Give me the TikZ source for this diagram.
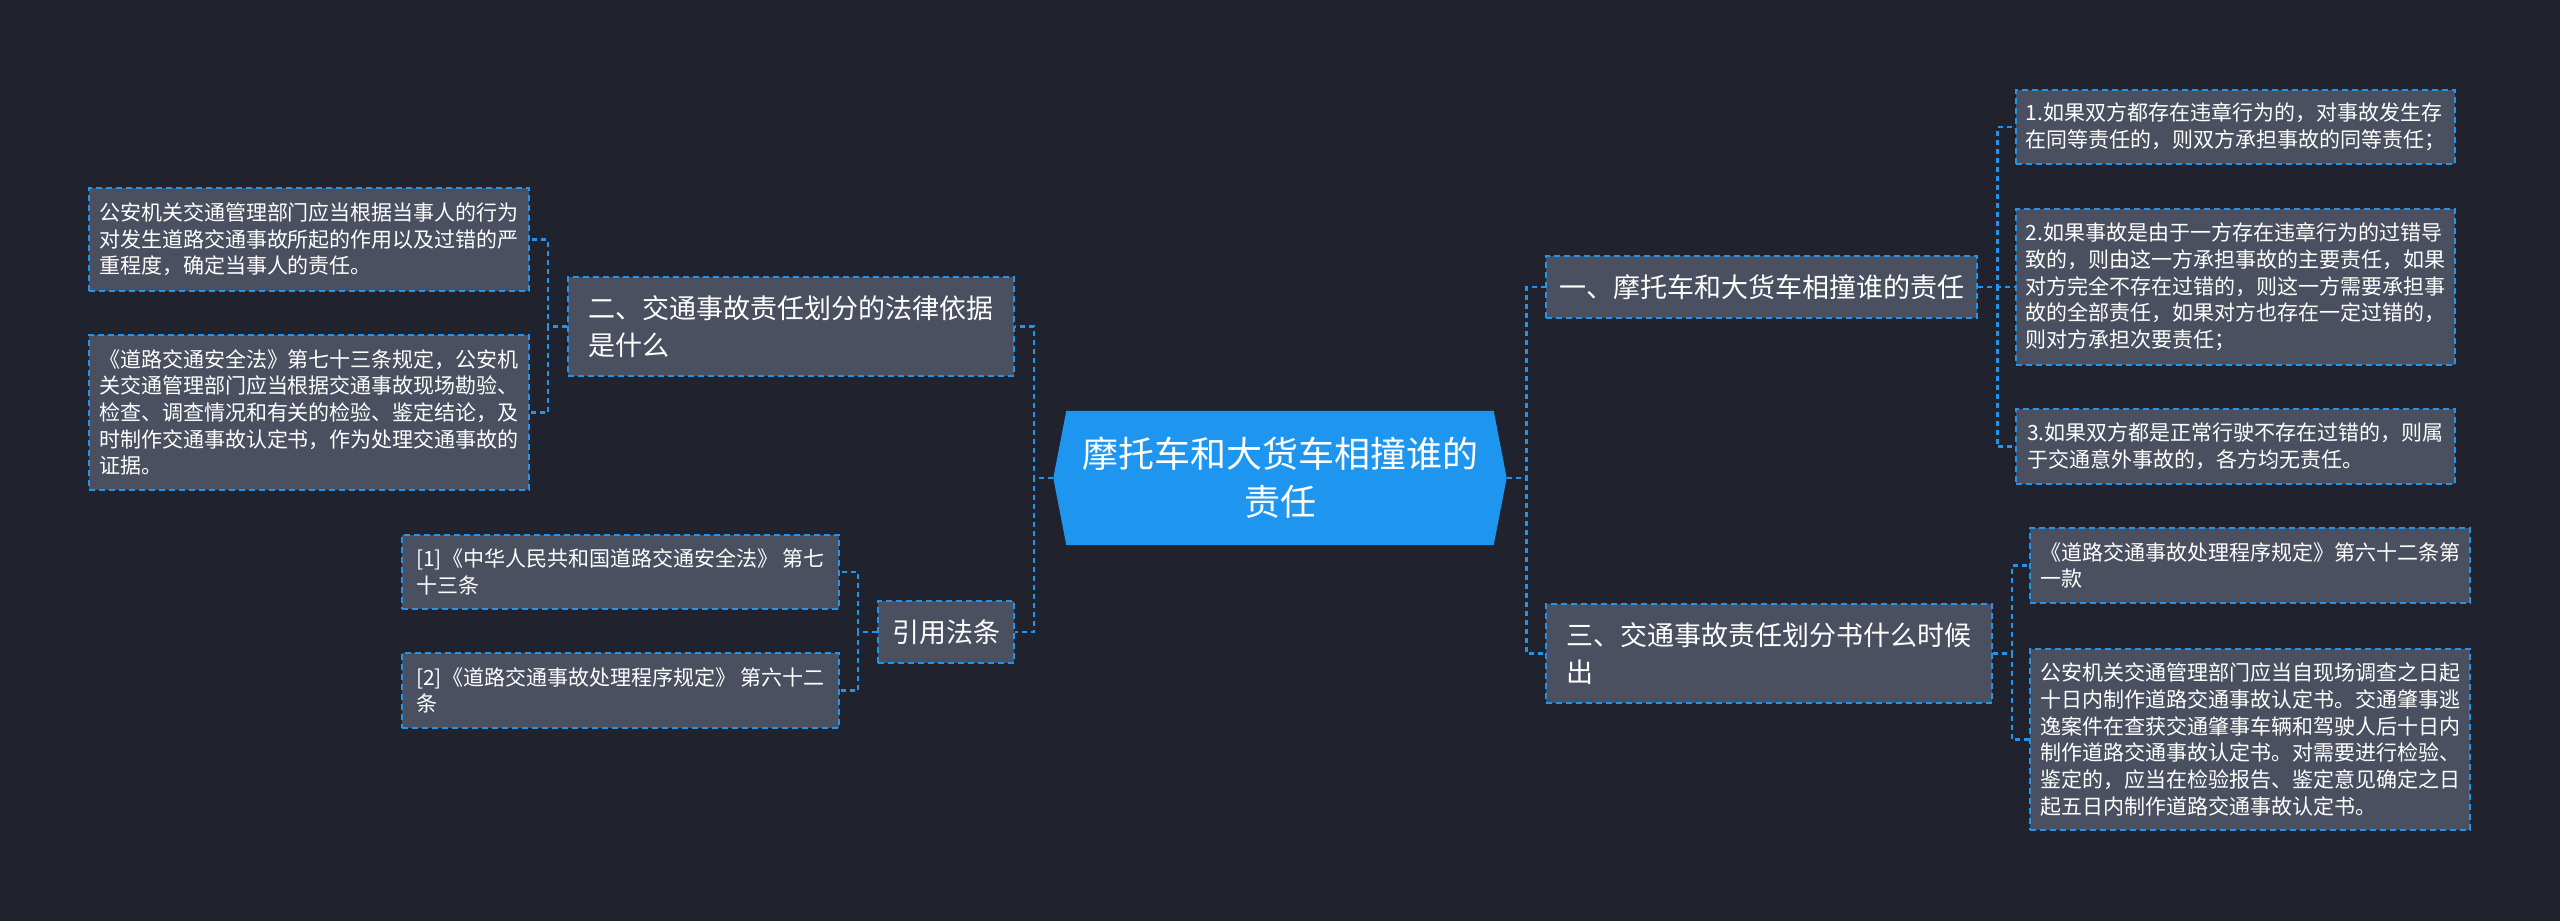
\documentclass[tikz,border=0pt]{standalone}
\usepackage{fontspec}
\setmainfont{Noto Sans CJK SC}
\usetikzlibrary{calc, backgrounds}
\definecolor{bgnavy}{RGB}{32,35,45}
\definecolor{boxgray}{RGB}{74,80,95}
\definecolor{linkblue}{RGB}{34,148,236}
\definecolor{rootblue}{RGB}{30,150,240}

\begin{document}
\begin{tikzpicture}[x=1pt, y=-1pt,
    topic/.style={draw=linkblue, dash pattern=on 6pt off 4pt, line width=1.8pt, fill=boxgray,
      text=white, align=left, inner sep=0pt, font=\fontsize{27}{37}\selectfont},
    leaf/.style={topic, font=\fontsize{21}{26.7}\selectfont},
    link/.style={linkblue, dash pattern=on 5pt off 4pt, line width=2.5pt}]
  \useasboundingbox (0,0) rectangle (2560,921);

  \node[text=white, align=center, inner sep=0pt, minimum width=453pt, minimum height=134pt,
    font=\fontsize{36}{48}\selectfont] (root) at (1280,478) {摩托车和大货车相撞谁的\\责任};

  \node[topic, minimum width=431pt, minimum height=62pt] (one) at (1761.5,287) {一、摩托车和大货车相撞谁的责任};
  \node[topic, minimum width=446pt, minimum height=99pt] (three) at (1769,653.5) {三、交通事故责任划分书什么时候\\出};
  \node[topic, minimum width=446pt, minimum height=99pt] (two) at (791,326.5) {二、交通事故责任划分的法律依据\\是什么};
  \node[topic, minimum width=136pt, minimum height=62pt] (cite) at (946,632) {引用法条};

  \node[leaf, minimum width=440pt, minimum height=103pt] (twoa) at (309,239.5) {公安机关交通管理部门应当根据当事人的行为\\对发生道路交通事故所起的作用以及过错的严\\重程度，确定当事人的责任。};
  \node[leaf, minimum width=440pt, minimum height=155pt] (twob) at (309,412.5) {《道路交通安全法》第七十三条规定，公安机\\关交通管理部门应当根据交通事故现场勘验、\\检查、调查情况和有关的检验、鉴定结论，及\\时制作交通事故认定书，作为处理交通事故的\\证据。};
  \node[leaf, minimum width=437pt, minimum height=74pt] (citea) at (620.5,572) {[1]《中华人民共和国道路交通安全法》 第七\\十三条};
  \node[leaf, minimum width=437pt, minimum height=75pt] (citeb) at (620.5,690.5) {[2]《道路交通事故处理程序规定》 第六十二\\条};

  \node[leaf, minimum width=439pt, minimum height=74pt] (onea) at (2235.5,127) {1.如果双方都存在违章行为的，对事故发生存\\在同等责任的，则双方承担事故的同等责任；};
  \node[leaf, minimum width=439pt, minimum height=156pt] (oneb) at (2235.5,287) {2.如果事故是由于一方存在违章行为的过错导\\致的，则由这一方承担事故的主要责任，如果\\对方完全不存在过错的，则这一方需要承担事\\故的全部责任，如果对方也存在一定过错的，\\则对方承担次要责任；};
  \node[leaf, minimum width=439pt, minimum height=75pt] (onec) at (2235.5,446.5) {3.如果双方都是正常行驶不存在过错的，则属\\于交通意外事故的，各方均无责任。};

  \node[leaf, minimum width=440pt, minimum height=75pt] (threea) at (2250,565.5) {《道路交通事故处理程序规定》第六十二条第\\一款};
  \node[leaf, minimum width=440pt, minimum height=181pt] (threeb) at (2250,739.5) {公安机关交通管理部门应当自现场调查之日起\\十日内制作道路交通事故认定书。交通肇事逃\\逸案件在查获交通肇事车辆和驾驶人后十日内\\制作道路交通事故认定书。对需要进行检验、\\鉴定的，应当在检验报告、鉴定意见确定之日\\起五日内制作道路交通事故认定书。};

  \begin{scope}[on background layer]
    \fill[bgnavy] (0,0) rectangle (2560,921);
    \fill[rootblue] (root.west) -- ($(root.north west)+(13,0)$) -- ($(root.north east)+(-13,0)$)
      -- (root.east) -- ($(root.south east)+(-13,0)$) -- ($(root.south west)+(13,0)$) -- cycle;
  \end{scope}

  \draw[link] (root.west) -- ++(-19.5,0) |- (two.east);
  \draw[link] (root.west) -- ++(-19.5,0) |- (cite.east);
  \draw[link] (root.east) -- ++(20,0) |- (one.west);
  \draw[link] (root.east) -- ++(20,0) |- (three.west);

  \draw[link] (two.west) -- ++(-19,0) |- (twoa.east);
  \draw[link] (two.west) -- ++(-19,0) |- (twob.east);
  \draw[link] (cite.west) -- ++(-19,0) |- (citea.east);
  \draw[link] (cite.west) -- ++(-19,0) |- (citeb.east);

  \draw[link] (one.east) -- ++(19.5,0) |- (onea.west);
  \draw[link] (one.east) -- ++(19.5,0) |- (oneb.west);
  \draw[link] (one.east) -- ++(19.5,0) |- (onec.west);
  \draw[link] (three.east) -- ++(19,0) |- (threea.west);
  \draw[link] (three.east) -- ++(19,0) |- (threeb.west);
\end{tikzpicture}
\end{document}
